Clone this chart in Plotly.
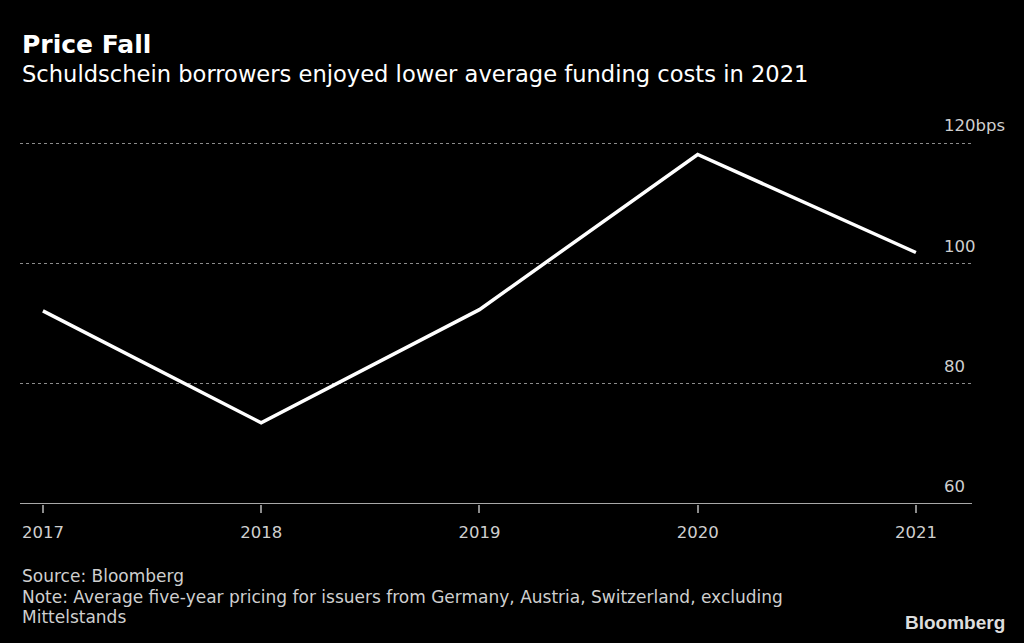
import plotly.graph_objects as go

# Données (points de base)
years = [2017, 2018, 2019, 2020, 2021]
pricing_bps = [92.1, 73.5, 92.3, 118.1, 101.8]

y_ticks = [60, 80, 100, 120]
y_tick_labels = ["60", "80", "100", "120bps"]

FONT = "DejaVu Sans"
GRID = "#8c8c8c"
TXT = "#cfcfcf"

fig = go.Figure()

fig.add_trace(
    go.Scatter(
        x=years,
        y=pricing_bps,
        mode="lines",
        line=dict(color="white", width=3.5),
        hoverinfo="x+y",
        showlegend=False,
    )
)

fig.update_layout(
    width=1024,
    height=643,
    paper_bgcolor="black",
    plot_bgcolor="black",
    font=dict(family=FONT, color=TXT, size=16),
    margin=dict(l=20, r=52, t=137, b=139),
    xaxis=dict(
        range=[2016.895, 2021.257],
        tickvals=years,
        ticktext=[str(y) for y in years],
        showgrid=False,
        zeroline=False,
        showline=False,
        ticks="outside",
        ticklen=8,
        tickcolor=GRID,
        tickwidth=1.5,
        ticklabelstandoff=5,
        tickfont=dict(size=16.5, color=TXT),
    ),
    yaxis=dict(
        range=[60, 121],
        side="right",
        tickvals=y_ticks,
        ticktext=y_tick_labels,
        showgrid=True,
        gridcolor=GRID,
        griddash="dot",
        gridwidth=1,
        zeroline=False,
        showline=False,
        ticks="",
        ticklabelposition="outside top",
        ticklabelstandoff=-29,
        ticklabelshift=-6,
        tickfont=dict(size=16.5, color=TXT),
    ),
    shapes=[
        # ligne de base de l'axe (60)
        dict(type="line", xref="paper", yref="y", x0=0, x1=1, y0=60, y1=60,
             line=dict(color="#a8a8a8", width=2)),
    ],
    annotations=[
        dict(text="<b>Price Fall</b>", xref="paper", yref="paper", x=0, y=1.251,
             xanchor="left", yanchor="middle", showarrow=False,
             font=dict(size=25, color="white", family=FONT)),
        dict(text="Schuldschein borrowers enjoyed lower average funding costs in 2021",
             xref="paper", yref="paper", x=0, y=1.172,
             xanchor="left", yanchor="middle", showarrow=False,
             font=dict(size=22.6, color="white", family=FONT)),
        dict(text="Source: Bloomberg", xref="paper", yref="paper", x=0, y=-0.196,
             xanchor="left", yanchor="middle", showarrow=False,
             font=dict(size=17, color=TXT, family=FONT)),
        dict(text="Note: Average five-year pricing for issuers from Germany, Austria, Switzerland, excluding",
             xref="paper", yref="paper", x=0, y=-0.253,
             xanchor="left", yanchor="middle", showarrow=False,
             font=dict(size=17, color=TXT, family=FONT)),
        dict(text="Mittelstands", xref="paper", yref="paper", x=0, y=-0.308,
             xanchor="left", yanchor="middle", showarrow=False,
             font=dict(size=17, color=TXT, family=FONT)),
        dict(text="<b>Bloomberg</b>", xref="paper", yref="paper", x=1.037, y=-0.324,
             xanchor="right", yanchor="middle", showarrow=False,
             font=dict(size=19, color="#dddddd", family="Liberation Sans")),
    ],
)

# enlever la marge par défaut du body pour coller au cadre 1024x643
fig.write_html("out.html", config={"displayModeBar": False},
               post_script="document.body.style.margin='0';")
